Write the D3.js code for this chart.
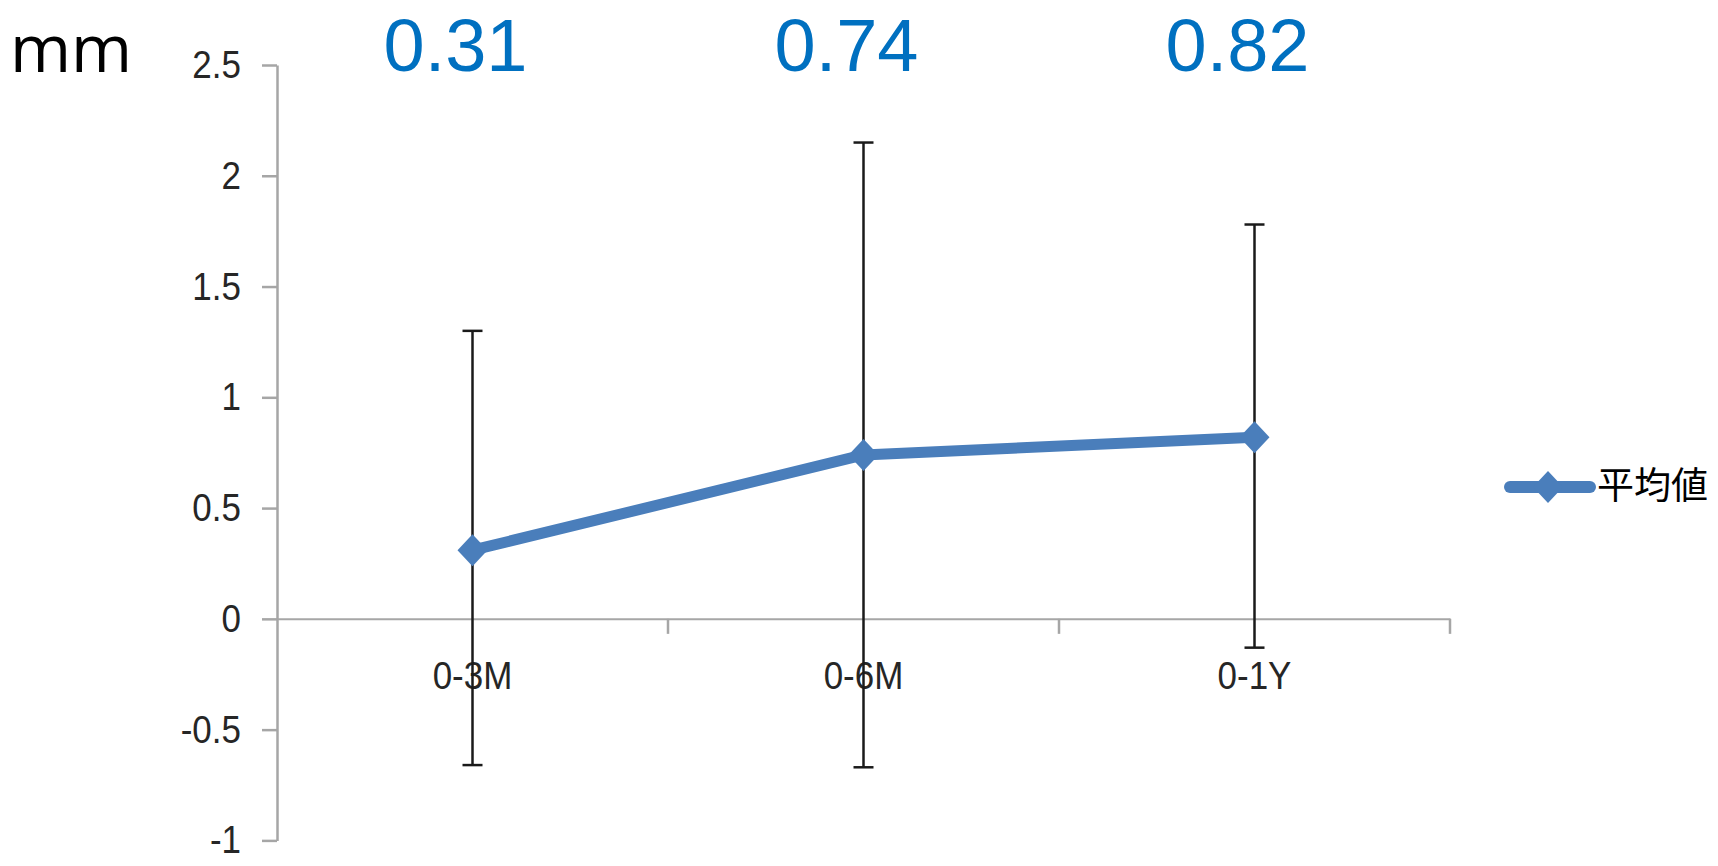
<!DOCTYPE html>
<html>
<head>
<meta charset="utf-8">
<script src="https://cdn.jsdelivr.net/npm/d3@7"></script>
<style>
  html, body { margin: 0; padding: 0; background: #ffffff; }
  svg { display: block; }
</style>
</head>
<body>
<svg id="chart" width="1718" height="866"></svg>
<script>
// ---- data ----
const categories = ["0-3M", "0-6M", "0-1Y"];
const means = [0.31, 0.74, 0.82];
const errorUpper = [1.30, 2.15, 1.78];
const errorLower = [-0.66, -0.67, -0.13];
const meanLabels = ["0.31", "0.74", "0.82"];
const yTicks = [-1, -0.5, 0, 0.5, 1, 1.5, 2, 2.5];
const seriesName = "平均値";
const unitLabel = "mm";

// ---- layout ----
const plotLeft = 277, plotRight = 1450, plotTop = 65, plotBottom = 840.4;
const lineColor = "#4a7ebb";
const axisColor = "#a6a6a6";
const labelFont = "'Liberation Sans', Arial, sans-serif";

const svg = d3.select("#chart");

const x = d3.scaleBand().domain(categories).range([plotLeft, plotRight]).padding(0);
const y = d3.scaleLinear().domain([-1, 2.5]).range([plotBottom, plotTop]);
const cx = c => x(c) + x.bandwidth() / 2;

const data = categories.map((c, i) => ({
  cat: c, mean: means[i], hi: errorUpper[i], lo: errorLower[i], label: meanLabels[i]
}));

// ---- y axis ----
const yAxisG = svg.append("g")
  .attr("transform", `translate(${plotLeft},0)`)
  .call(d3.axisLeft(y).tickValues(yTicks).tickSize(15).tickSizeOuter(0).tickPadding(21)
    .tickFormat(d => String(d)));
yAxisG.select(".domain").attr("stroke", axisColor).attr("stroke-width", 2.5);
yAxisG.selectAll(".tick line").attr("stroke", axisColor).attr("stroke-width", 2.5);
yAxisG.selectAll(".tick text")
  .attr("fill", "#262626")
  .style("font-family", labelFont)
  .style("font-size", "35px")
  .attr("transform", "scale(1,1.12)");

// ---- x axis (at y = 0) ----
const xAxisG = svg.append("g")
  .attr("transform", `translate(0,${y(0)})`)
  .call(d3.axisBottom(x).tickSize(0).tickSizeOuter(0).tickPadding(37.5));
xAxisG.select(".domain").attr("stroke", axisColor).attr("stroke-width", 2);
xAxisG.selectAll(".tick text")
  .attr("fill", "#262626")
  .style("font-family", labelFont)
  .style("font-size", "35px")
  .attr("transform", "scale(1,1.12)");
// category boundary tick marks
const boundaries = categories.map(c => x(c) + x.bandwidth());
xAxisG.selectAll(".bound").data(boundaries).enter().append("line")
  .attr("class", "bound")
  .attr("x1", d => d).attr("x2", d => d)
  .attr("y1", 0).attr("y2", 15)
  .attr("stroke", axisColor).attr("stroke-width", 2.5);

// ---- error bars ----
const eb = svg.append("g").attr("stroke", "#1a1a1a").attr("stroke-width", 2.5);
eb.selectAll(".v").data(data).enter().append("line")
  .attr("x1", d => cx(d.cat)).attr("x2", d => cx(d.cat))
  .attr("y1", d => y(d.hi)).attr("y2", d => y(d.lo));
eb.selectAll(".ct").data(data).enter().append("line")
  .attr("x1", d => cx(d.cat) - 10).attr("x2", d => cx(d.cat) + 10)
  .attr("y1", d => y(d.hi)).attr("y2", d => y(d.hi));
eb.selectAll(".cb").data(data).enter().append("line")
  .attr("x1", d => cx(d.cat) - 10).attr("x2", d => cx(d.cat) + 10)
  .attr("y1", d => y(d.lo)).attr("y2", d => y(d.lo));

// ---- line + markers ----
const line = d3.line().x(d => cx(d.cat)).y(d => y(d.mean));
svg.append("path").datum(data)
  .attr("d", line)
  .attr("fill", "none")
  .attr("stroke", lineColor)
  .attr("stroke-width", 11)
  .attr("stroke-linecap", "round")
  .attr("stroke-linejoin", "round");

const diamond = "M0,-16L15,0L0,16L-15,0Z";
svg.selectAll(".marker").data(data).enter().append("path")
  .attr("d", diamond)
  .attr("transform", d => `translate(${cx(d.cat)},${y(d.mean)})`)
  .attr("fill", lineColor);

// ---- mean value annotations ----
svg.selectAll(".meanlab").data(data).enter().append("text")
  .attr("x", d => cx(d.cat) - 17)
  .attr("y", 71)
  .attr("text-anchor", "middle")
  .attr("fill", "#0070c0")
  .style("font-family", labelFont)
  .style("font-size", "74px")
  .text(d => d.label);

// ---- unit label ----
svg.append("text")
  .attr("x", 10).attr("y", 72)
  .attr("fill", "#000")
  .style("font-family", "'Open Sans', sans-serif")
  .style("font-size", "66px")
  .text(unitLabel);

// ---- legend ----
const lg = svg.append("g");
lg.append("line")
  .attr("x1", 1510).attr("x2", 1590).attr("y1", 487).attr("y2", 487)
  .attr("stroke", lineColor).attr("stroke-width", 12).attr("stroke-linecap", "round");
lg.append("path").attr("d", diamond).attr("transform", "translate(1548,487)").attr("fill", lineColor);
lg.append("text")
  .attr("x", 1597).attr("y", 483)
  .attr("dominant-baseline", "central")
  .attr("fill", "#000")
  .style("font-family", "'Noto Sans CJK JP', sans-serif")
  .style("font-size", "37px")
  .text(seriesName);
</script>
</body>
</html>
